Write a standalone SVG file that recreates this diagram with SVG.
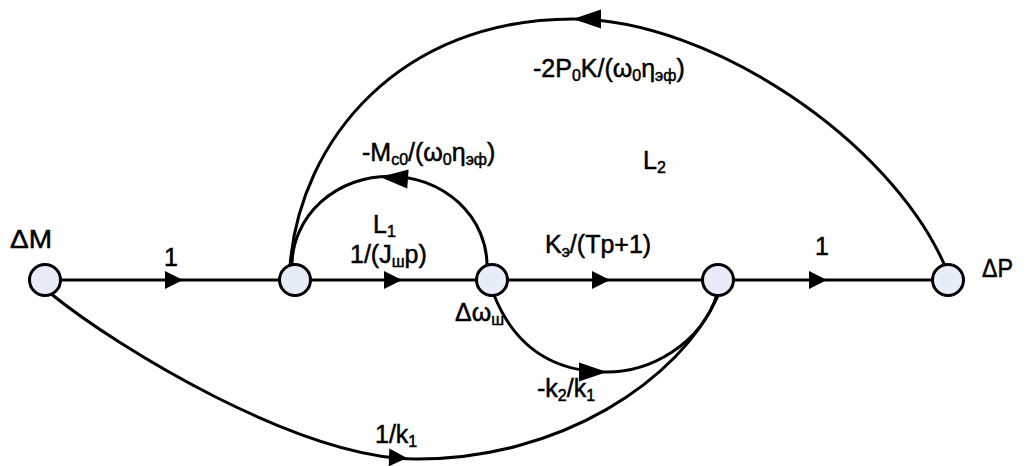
<svg xmlns="http://www.w3.org/2000/svg" xmlns:xlink="http://www.w3.org/1999/xlink" width="1026" height="466" viewBox="0 0 1026 466">
<style>
.e{fill:none;stroke:#000;stroke-width:3}
.n{fill:#e6ecf8;stroke:#000;stroke-width:3}
.t{font-family:"Liberation Sans",Arial,sans-serif;font-size:25px;fill:#000;stroke:#000;stroke-width:0.5}
.s{font-size:16px}
.a{fill:#000;stroke:none}
</style>
<defs>
<path id="ah" d="M0,0 L-18,-9 L-18,9 Z"/>
<path id="al" d="M0,0 L-28,-9.5 L-28,9.5 Z"/>
</defs>
<rect width="1026" height="466" fill="#fff"/>
<g id="connectors">
<line class="e" x1="60" y1="280" x2="280" y2="280"/>
<line class="e" x1="310" y1="280" x2="477" y2="280"/>
<line class="e" x1="507" y1="280" x2="703" y2="280"/>
<line class="e" x1="733" y1="280" x2="933" y2="280"/>
<path class="e" d="M290,266 C300,140 400,19 573,19 C710,19 890,140 945,266"/>
<path class="e" d="M292,265 A96,88 0 0 1 487,266"/>
<path class="e" d="M494,295 C520,360 570,372 607,372 C650,372 700,345 717,295"/>
<path class="e" d="M50,293 C120,350 300,458 415,459 C560,460 680,380 718,296"/>
<use class="a" xlink:href="#ah" transform="translate(183,280)"/>
<use class="a" xlink:href="#ah" transform="translate(402,280)"/>
<use class="a" xlink:href="#ah" transform="translate(610,280)"/>
<use class="a" xlink:href="#ah" transform="translate(827,280)"/>
<use class="a" xlink:href="#ah" transform="translate(407,458) rotate(2)"/>
<use class="a" xlink:href="#al" transform="translate(607,372)"/>
<use class="a" xlink:href="#al" transform="translate(380,177) rotate(184)"/>
<use class="a" xlink:href="#al" transform="translate(573,19) rotate(180)"/>
</g>
<g id="node-dM"><circle class="n" cx="45" cy="280" r="15.5"/><text class="t" x="10" y="248" textLength="42" lengthAdjust="spacingAndGlyphs">ΔM</text></g>
<g id="node-2"><circle class="n" cx="295" cy="280" r="15.5"/></g>
<g id="node-dw"><circle class="n" cx="492" cy="280" r="15.5"/><text class="t" x="455" y="321">Δω<tspan class="s" dy="4">ш</tspan></text></g>
<g id="node-4"><circle class="n" cx="718" cy="280" r="15.5"/></g>
<g id="node-dP"><circle class="n" cx="948" cy="280" r="15.5"/><text class="t" x="982" y="277" textLength="31" lengthAdjust="spacingAndGlyphs">ΔP</text></g>
<g id="labels">
<text class="t" x="171" y="266" text-anchor="middle">1</text>
<text class="t" x="373" y="233">L<tspan class="s" dy="4">1</tspan></text>
<text class="t" x="350" y="263">1/(J<tspan class="s" dy="4">ш</tspan><tspan dy="-4">p)</tspan></text>
<text class="t" x="362" y="161">-M<tspan class="s" dy="4">c0</tspan><tspan dy="-4">/(ω</tspan><tspan class="s" dy="4">0</tspan><tspan dy="-4">η</tspan><tspan class="s" dy="4">эф</tspan><tspan dy="-4">)</tspan></text>
<text class="t" x="545" y="253">K<tspan class="s" dy="4">э</tspan><tspan dy="-4">/(Tp+1)</tspan></text>
<text class="t" x="822" y="255" text-anchor="middle">1</text>
<text class="t" x="537" y="397">-k<tspan class="s" dy="4">2</tspan><tspan dy="-4">/k</tspan><tspan class="s" dy="4">1</tspan></text>
<text class="t" x="375" y="443">1/k<tspan class="s" dy="4">1</tspan></text>
<text class="t" x="533" y="77">-2P<tspan class="s" dy="4">0</tspan><tspan dy="-4">K/(ω</tspan><tspan class="s" dy="4">0</tspan><tspan dy="-4">η</tspan><tspan class="s" dy="4">эф</tspan><tspan dy="-4">)</tspan></text>
<text class="t" x="643" y="169">L<tspan class="s" dy="4">2</tspan></text>
</g>
</svg>
